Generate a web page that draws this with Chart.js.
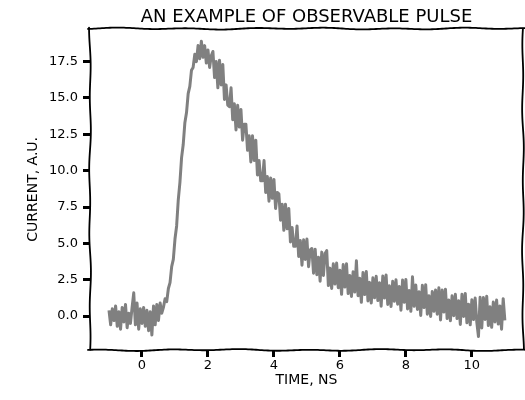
<!DOCTYPE html>
<html>
<head>
<meta charset="utf-8">
<script src="https://cdn.jsdelivr.net/npm/chart.js@4"></script>
<style>
  html, body { margin: 0; padding: 0; background: #fff; }
  #wrap { width: 525px; height: 400px; }
</style>
</head>
<body>
<div id="wrap"><canvas id="c" width="525" height="400"></canvas></div>
<script>
const sampleStep = 0.05;

const baselineStart = -1.00;
const baselineValues = [
  0.4, -0.6, 0.5, -0.3, 0.7, -0.7, 0.3, -0.9, 0.6, -0.4,
  0.8, -0.8, 0.2, -0.5, 0.6, 1.6, -0.6, 0.9, -0.9, 0.5,
  -0.5, 0.6, -0.7, 0.4, -1.0, 0.3, -1.3, 0.7, -0.6, 0.8,
  -0.3, 0.9, 0.2
];

const riseStart = 0.65;
const riseValues = [
  0.6, 1.2, 1.0, 1.9, 2.3, 3.4, 3.9, 5.3, 6.2, 8.0,
  9.2, 10.9, 11.8, 13.3, 14.0, 15.3, 15.8, 16.9, 17.1, 18.0,
  17.5, 18.6, 17.7, 18.9, 17.8, 18.6, 17.4, 18.3, 17.1, 17.9
];

const decayStart = 2.15;
const decayValues = [
  18.2, 16.4, 17.5, 15.7, 17.6, 15.9, 17.3, 14.9, 15.9, 14.5,
  14.4, 15.7, 13.5, 14.6, 12.8, 14.5, 13.0, 14.2, 12.1, 13.2,
  13.2, 11.4, 12.4, 10.6, 12.4, 10.7, 12.1, 9.7, 10.7, 9.3,
  9.3, 10.7, 8.5, 9.6, 7.9, 9.5, 8.1, 9.4, 7.4, 8.5,
  8.4, 6.6, 7.7, 5.9, 7.7, 6.0, 7.4, 5.1, 6.1, 4.8,
  4.8, 6.2, 4.1, 5.2, 3.5, 5.25, 3.9, 5.3, 3.4, 4.55,
  4.65, 2.95
];

const tailStart = 5.25;
const tailValues = [
  4.6, 2.85, 4.05, 2.4, 4.4, 2.8, 4.3, 4.5, 2.1, 3.3,
  1.9, 3.6, 2.2, 3.65, 1.95, 3.15, 1.5, 3.55, 2.0, 3.6,
  1.55, 2.8, 1.35, 3.05, 1.65, 3.8, 1.4, 2.6, 0.95, 3.0,
  1.48, 3.06, 1.04, 2.32, 0.9, 2.63, 1.26, 2.74, 1.07, 2.3,
  0.68, 2.76, 1.24, 2.82, 0.8, 2.08, 0.66, 2.39, 1.02, 2.5,
  0.82, 2.04, 0.41, 2.48, 0.95, 2.52, 0.49, 1.76, 0.33, 2.7,
  0.67, 2.14, 0.46, 1.68, 0.05, 2.12, 0.59, 2.16, 0.13, 1.4,
  -0.02, 1.7, 0.33, 1.8, 0.13, 1.95, -0.27, 1.8, 0.28, 1.85,
  -0.17, 1.1, -0.32, 1.4, 0.03, 1.5, -0.17, 1.05, -0.57, 1.5,
  -0.02, 1.56, -0.46, 0.82, -0.6, 1.13, -0.24, 1.24, -0.43, -1.4,
  1.29, -0.82, 1.28, -0.23, 1.36, -0.65, 0.64, -0.77, 0.97, -0.4,
  1.1, -0.55, 0.7, -0.9, 1.2, -0.3
];

const xTickValues = [0, 2, 4, 6, 8, 10];
const yTickValues = [0, 2.5, 5, 7.5, 10, 12.5, 15, 17.5];

const titleText = 'AN EXAMPLE OF OBSERVABLE PULSE';
const xAxisTitle = 'TIME, NS';
const yAxisTitle = 'CURRENT, A.U.';

// ---- build points from the segments ----
function segmentPoints(start, values) {
  return values.map((v, i) => ({ x: +(start + i * sampleStep).toFixed(2), y: v }));
}
const points = [].concat(
  segmentPoints(baselineStart, baselineValues),
  segmentPoints(riseStart, riseValues),
  segmentPoints(decayStart, decayValues),
  segmentPoints(tailStart, tailValues)
);

const FONT = "'DejaVu Sans', sans-serif";

// hand-drawn-looking frame (decoration only)
const wavyFrame = {
  id: 'wavyFrame',
  afterDatasetsDraw(chart) {
    const { ctx, chartArea: a } = chart;
    const w = (t, s) => 0.6 * Math.sin(t / 11 + s) + 0.4 * Math.sin(t / 29 + 2 * s);
    ctx.save();
    ctx.strokeStyle = '#000';
    ctx.lineWidth = 1.8;
    ctx.lineJoin = 'round';
    ctx.lineCap = 'round';
    const hLine = (y0, x0, x1, s) => {
      ctx.beginPath();
      for (let x = x0; x <= x1; x += 2) {
        const y = y0 + w(x, s);
        x === x0 ? ctx.moveTo(x, y) : ctx.lineTo(x, y);
      }
      ctx.stroke();
    };
    const vLine = (x0, y0, y1, s) => {
      ctx.beginPath();
      for (let y = y0; y <= y1; y += 2) {
        const x = x0 + w(y, s);
        y === y0 ? ctx.moveTo(x, y) : ctx.lineTo(x, y);
      }
      ctx.stroke();
    };
    hLine(a.top, a.left - 2, a.right + 4, 0.3);
    hLine(a.bottom, a.left - 2, a.right + 4, 1.7);
    vLine(a.left, a.top - 1, a.bottom + 1, 2.1);
    vLine(a.right, a.top, a.bottom, 0.9);
    ctx.restore();
  }
};

new Chart(document.getElementById('c'), {
  type: 'line',
  data: {
    datasets: [{
      data: points,
      borderColor: '#808080',
      borderWidth: 3,
      borderJoinStyle: 'round',
      pointRadius: 0,
      tension: 0,
      fill: false
    }]
  },
  options: {
    responsive: false,
    animation: false,
    layout: { padding: { left: 0, right: 2, top: 0, bottom: 0 } },
    plugins: {
      legend: { display: false },
      tooltip: { enabled: false },
      title: {
        display: true,
        text: titleText,
        fullSize: false,
        color: '#000',
        font: { family: FONT, size: 18, weight: 'normal' },
        padding: { top: 7, bottom: 0 }
      }
    },
    scales: {
      x: {
        type: 'linear',
        min: -1.576,
        max: 11.55,
        afterFit(s) { s.height = 50; },
        afterBuildTicks(s) { s.ticks = xTickValues.map(v => ({ value: v })); },
        border: { display: false },
        grid: { display: true, drawOnChartArea: false, drawTicks: true, tickLength: 7, tickWidth: 3, tickColor: '#000' },
        ticks: {
          color: '#000',
          padding: 1,
          maxRotation: 0,
          font: { family: FONT, size: 13 },
          callback: v => String(v)
        },
        title: {
          display: true,
          text: xAxisTitle,
          color: '#000',
          font: { family: FONT, size: 14 },
          padding: { top: 0, bottom: 11 }
        }
      },
      y: {
        type: 'linear',
        min: -2.33,
        max: 19.77,
        afterFit(s) { s.width = 90; },
        afterBuildTicks(s) { s.ticks = yTickValues.map(v => ({ value: v })); },
        border: { display: false },
        grid: { display: true, drawOnChartArea: false, drawTicks: true, tickLength: 7, tickWidth: 3, tickColor: '#000' },
        ticks: {
          color: '#000',
          padding: 5,
          font: { family: FONT, size: 13 },
          callback: v => Number(v).toFixed(1)
        },
        title: {
          display: true,
          text: yAxisTitle,
          color: '#000',
          font: { family: FONT, size: 14 },
          padding: { top: 25, bottom: 0 }
        }
      }
    }
  },
  plugins: [wavyFrame]
});
</script>
</body>
</html>
